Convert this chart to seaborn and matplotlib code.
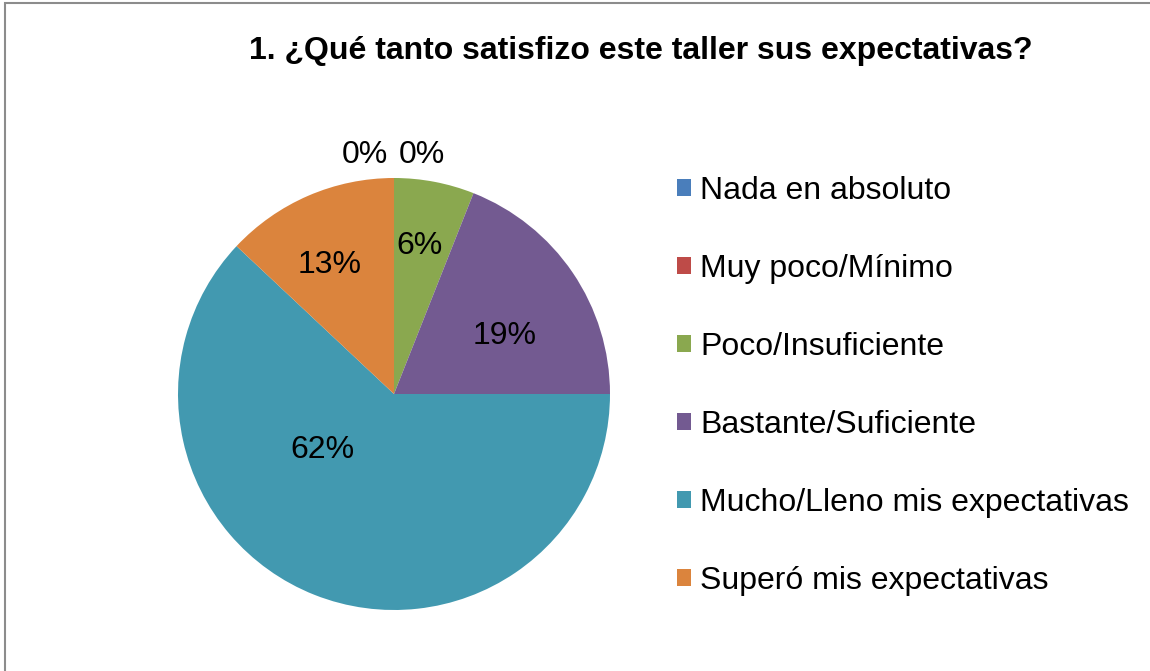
import matplotlib
matplotlib.use("Agg")
import matplotlib.pyplot as plt
import seaborn as sns
from matplotlib.patches import Rectangle

sns.set_theme(style="white")
plt.rcParams['font.family'] = ['Liberation Sans', 'DejaVu Sans']
plt.rcParams['text.color'] = 'black'
plt.rcParams['legend.labelcolor'] = 'black'

title = "1. ¿Qué tanto satisfizo este taller sus expectativas?"
categories = ["Nada en absoluto", "Muy poco/Mínimo", "Poco/Insuficiente",
              "Bastante/Suficiente", "Mucho/Lleno mis expectativas",
              "Superó mis expectativas"]
values = [0, 0, 6, 19, 62, 13]
pct_labels = ["0%", "0%", "6%", "19%", "62%", "13%"]
colors = ["#4A7EBB", "#BE4B48", "#8AA84F", "#735A91", "#4299B0", "#DB843D"]

# label placement (in pie-radius units, relative to centre), mimics Excel best fit
label_pos = [(-0.134, 1.106), (0.13, 1.106), (0.12, 0.685),
             (0.514, 0.269), (-0.333, -0.259), (-0.296, 0.597)]

W, H = 1150, 671
fig = plt.figure(figsize=(W / 100, H / 100), dpi=100)
fig.patch.set_facecolor("white")

cx, cy, r = 394, 394, 216
ax = fig.add_axes([(cx - r) / W, (H - cy - r) / H, 2 * r / W, 2 * r / H])
wedges, _ = ax.pie(values, colors=colors, startangle=90, counterclock=False,
                   wedgeprops=dict(linewidth=0, edgecolor="none"))
ax.set_xlim(-1, 1)
ax.set_ylim(-1, 1)
ax.set_aspect("equal")
ax.axis("off")

fs = 23
for lab, (px, py) in zip(pct_labels, label_pos):
    ax.text(px, py, lab, ha="center", va="center", fontsize=fs, color="black")

fig.text(641 / W, 1 - 51 / H, title, ha="center", va="center",
         fontsize=fs, fontweight="bold", color="black")

leg = fig.legend(wedges, categories, loc="upper left",
                 bbox_to_anchor=(677 / W, 1 - 176 / H),
                 frameon=False, fontsize=fs, handlelength=0.45,
                 handleheight=0.45, handletextpad=0.28, labelspacing=1.5,
                 borderpad=0, borderaxespad=0)

# outer chart border (only top & left visible in the reference)
fig.add_artist(Rectangle((5 / W, -0.05), 1.2, 1 - 3 / H + 0.05,
                         transform=fig.transFigure, fill=False,
                         edgecolor="#8c8c8c", linewidth=1.5))

fig.savefig("out.png", dpi=100, facecolor="white")
